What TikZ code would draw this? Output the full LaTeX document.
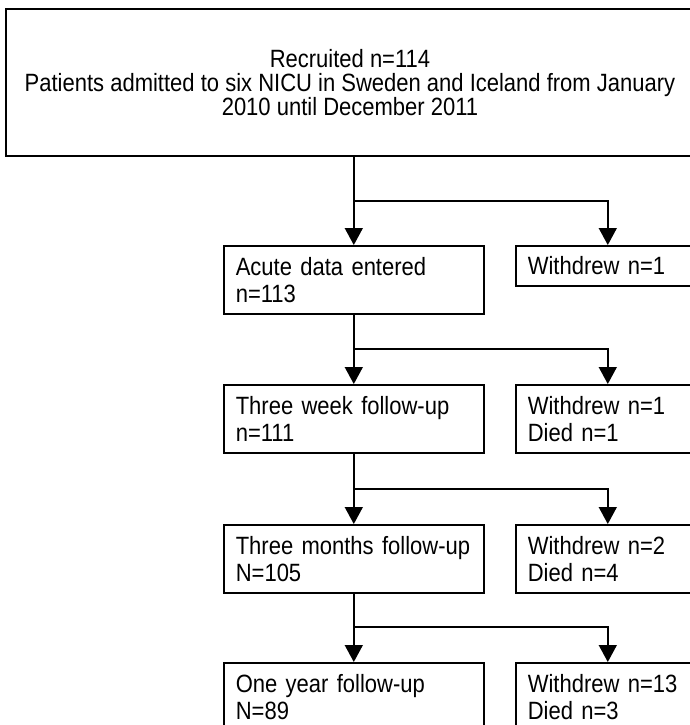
\documentclass[tikz,border=0pt]{standalone}
\usepackage{fontspec}
\setmainfont[FakeStretch=0.88]{Liberation Sans}
\usepackage{tikz}
\usetikzlibrary{arrows.meta}

\begin{document}
\begin{tikzpicture}[
		x=0.5pt, y=-0.5pt
		,every node/.append style={font=\fontsize{12.5}{13.5}\selectfont}
		,recbox/.style={draw, line width=1pt, minimum width=344pt, minimum height=73.5pt, align=center, font=\fontsize{12.5}{12}\selectfont}
		,lbox/.style={draw, line width=0.8pt, anchor=north west, minimum height=34pt, text width=118pt, inner xsep=6pt, align=left}
		,rbox/.style={draw, line width=0.8pt, anchor=north west, minimum height=34pt, text width=80pt, inner xsep=6pt, align=left}
		,arr/.style={line width=0.8pt, -{Triangle[width=9pt,length=8.5pt]}}
	]
		\useasboundingbox (0,0) rectangle (690,725);
		\node [recbox] (rec) at (350,82.5) {Recruited n=114\\Patients admitted to six NICU in Sweden and Iceland from January\\2010 until December 2011};
		\node [lbox] (acute) at (223,245) {Acute data entered\\n=113};
		\node [rbox, minimum height=20pt] (wd1) at (515,245) {Withdrew n=1};
		\node [lbox] (week) at (223,384) {Three week follow-up\\n=111};
		\node [rbox] (wd2) at (515,384) {Withdrew n=1\\Died n=1};
		\node [lbox] (month) at (223,524) {Three months follow-up\\N=105};
		\node [rbox] (wd3) at (515,524) {Withdrew n=2\\Died n=4};
		\node [lbox] (year) at (223,662) {One year follow-up\\N=89};
		\node [rbox] (wd4) at (515,662) {Withdrew n=13\\Died n=3};
		% trunk and side branch of each step
		\foreach \a/\b/\c/\y in {rec/acute/wd1/201, acute/week/wd2/349, week/month/wd3/489, month/year/wd4/627} {
			\coordinate (split) at (\b.north |- 0,\y);
			\draw [arr] (\a.south -| \b.north) -- (\b.north);
			\draw [arr] (split) -| (\c.north);
		}
	\end{tikzpicture}
\end{document}
